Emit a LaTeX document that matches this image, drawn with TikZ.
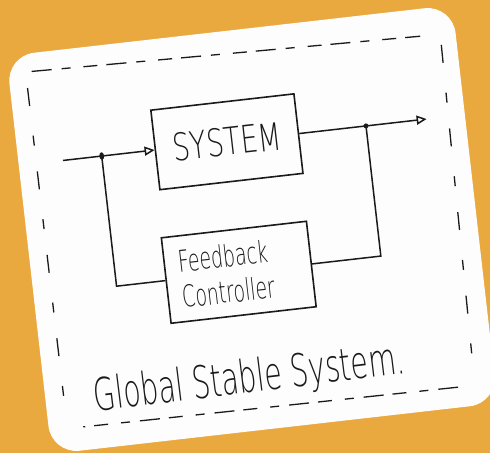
\documentclass[tikz,border=0pt]{standalone}
\usepackage{fontspec}
\newfontfamily\handA{DejaVu Sans ExtraLight}[FakeStretch=0.72]
\newfontfamily\handB{DejaVu Sans ExtraLight}[FakeStretch=0.63]
\usetikzlibrary{arrows.meta}
\definecolor{bgorange}{HTML}{E9A93F}
\definecolor{cardwhite}{HTML}{FDFDFD}
\definecolor{inkc}{HTML}{1A1A1A}
\begin{document}
\begin{tikzpicture}[x=1pt,y=1pt,
  inkline/.style={draw=inkc, line width=1.6pt},
  block/.style={inkline, fill=cardwhite, inner sep=0pt, text=inkc},
  wire/.style={draw=inkc, line width=1.5pt},
  tip/.style={-{Triangle[open,length=10pt,width=9pt,line width=1.5pt]}},
  dashh/.style={draw=inkc, line width=1.3pt, dash pattern=on 20pt off 10pt on 9pt off 13pt on 14pt off 9pt},
  dashv/.style={draw=inkc, line width=1.3pt, dash pattern=on 18pt off 30pt on 10pt off 26pt},
]
\fill[bgorange] (0,0) rectangle (490,453);
\useasboundingbox (0,0) rectangle (490,453);
\begin{scope}[shift={(252,223.5)}, rotate=6.5, transform shape]
  \fill[cardwhite, rounded corners=28pt] (-224.5,-200.3) rectangle (224.5,200.3);
  % dashed frame
  \draw[dashh] (-201,182) -- (189,173);
  \draw[dashv] (209,162) -- (204,-165);
  \draw[dashh] (187,-180) -- (-190,-177);
  \draw[dashv] (-207,166) -- (-206,-158);
  % blocks
  \node[block, minimum width=144pt, minimum height=80pt,
        font=\handA\fontsize{38}{40}\selectfont] (sys) at (-15,90) {SYSTEM};
  \node[block, minimum width=146pt, minimum height=86pt, text width=118pt,
        inner xsep=14pt, align=left, font=\handB\fontsize{30}{36}\selectfont] (fb) at (-18,-41)
    {Feedback\\Controller};
  % connectors
  \coordinate (in) at (-180,90);
  \coordinate (j1) at (-141,90);
  \coordinate (j2) at (125,90);
  \coordinate (out) at (186,90);
  \draw[wire, tip] (in) -- (sys.west);
  \draw[wire, tip] (sys.east) -- (out);
  \draw[wire] (j1) |- (fb.west);
  \draw[wire] (j2) |- (fb.east);
  \fill[inkc] (j1) ellipse [x radius=2.4pt, y radius=3.8pt];
  \fill[inkc] (j2) circle [radius=2.5pt];
  % caption
  \node[anchor=base west, inner sep=0pt, rotate=0.5, text=inkc,
        font=\handB\fontsize{45}{48}\selectfont] (cap) at (-176,-163)
    {Global Stable System.};
\end{scope}
\end{tikzpicture}
\end{document}
